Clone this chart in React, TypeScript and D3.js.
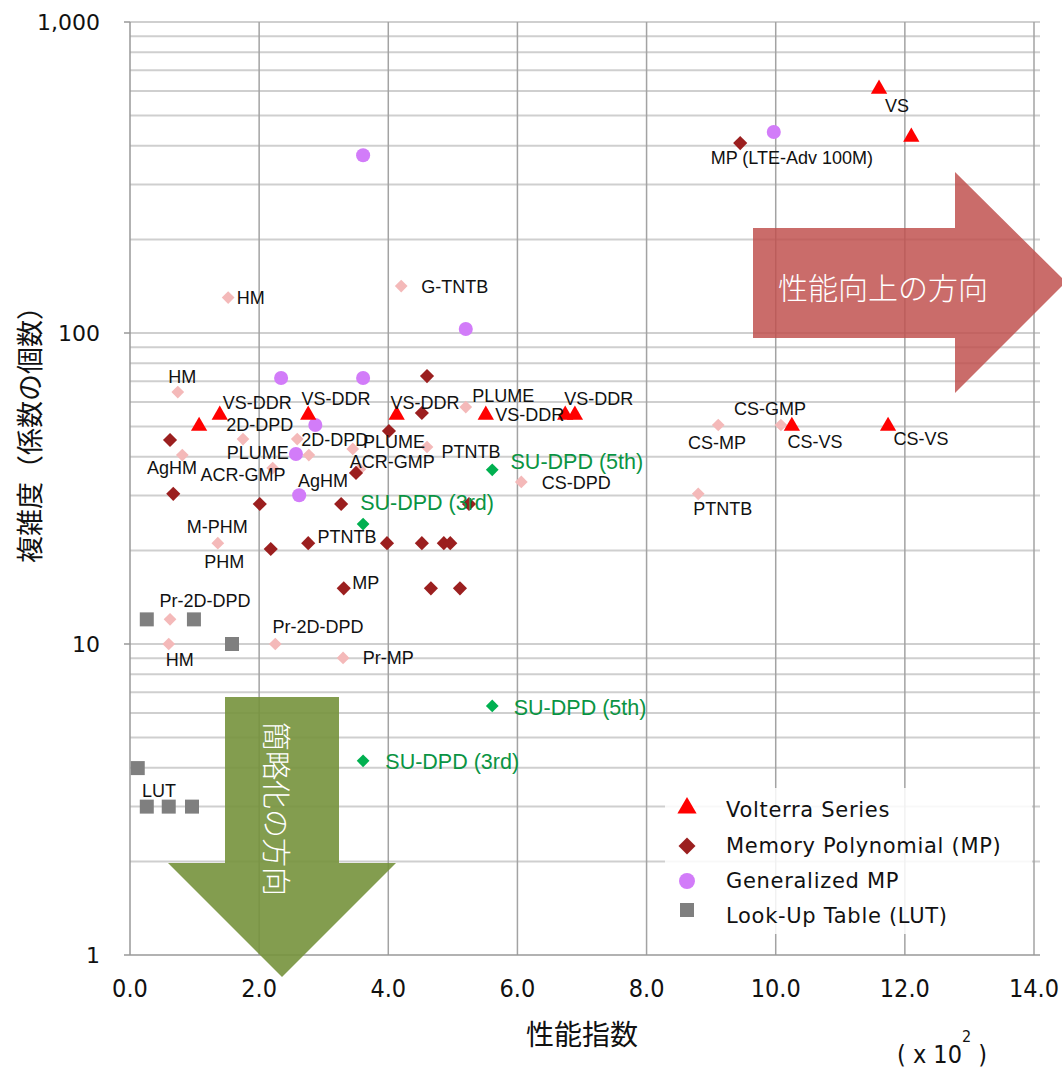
import React from 'react';
import * as d3 from 'd3';

// [performance index (x100), coefficient count]
const volterra: [number, number][] = [
  [11.6, 609], [12.1, 427], [1.07, 50.2], [1.39, 54.5], [2.76, 54.5],
  [4.13, 54.5], [5.51, 54.5], [6.74, 54.5], [6.89, 54.5], [10.25, 50.2], [11.74, 50.2],
];
const memoryPoly: [number, number][] = [
  [0.62, 45.3], [0.67, 30.4], [2.01, 28.2], [3.27, 28.2], [2.18, 20.2],
  [2.76, 21.1], [3.98, 21.1], [4.52, 21.1], [4.86, 21.1], [4.96, 21.1],
  [3.31, 15.1], [4.66, 15.1], [5.11, 15.1], [3.5, 35.5], [5.25, 28.2],
  [4.6, 72.7], [4.52, 55.3], [4.01, 48.4], [9.45, 408],
];
const generalizedMP: [number, number][] = [
  [3.61, 373], [9.97, 443], [5.2, 103], [2.34, 71.7], [3.61, 71.7],
  [2.87, 50.6], [2.57, 40.8], [2.62, 30.1],
];
const lookUpTable: [number, number][] = [
  [0.26, 12.0], [0.99, 12.0], [1.58, 10.0], [0.12, 3.99], [0.26, 3.0], [0.6, 3.0], [0.96, 3.0],
];
const others: [number, number][] = [
  [1.52, 130], [4.2, 141.6], [0.74, 64.6], [1.75, 45.6], [2.59, 45.6],
  [2.77, 40.5], [0.81, 40.5], [3.45, 42.4], [4.6, 43], [5.2, 57.8],
  [2.21, 36.8], [3.56, 36.5], [6.06, 33.2], [1.36, 21.1], [0.62, 12.0],
  [0.6, 10.0], [2.25, 10.0], [3.3, 9.02], [9.11, 50.6], [10.08, 50.6], [8.8, 30.4],
];
const suDpd: [number, number][] = [
  [5.61, 36.3], [3.61, 24.3], [5.61, 6.32], [3.61, 4.21],
];

const pointLabels: [string, number, number][] = [
  ['VS', 11.88, 537], ['MP (LTE-Adv 100M)', 10.25, 365], ['HM', 1.87, 130],
  ['G-TNTB', 5.03, 140.6], ['HM', 0.81, 72.2], ['VS-DDR', 1.97, 59.6],
  ['VS-DDR', 3.19, 61.3], ['VS-DDR', 4.57, 59.6], ['PLUME', 5.78, 62.7],
  ['VS-DDR', 6.19, 54.5], ['VS-DDR', 7.26, 61.3], ['2D-DPD', 2.01, 50.6],
  ['2D-DPD', 3.17, 45.3], ['PLUME', 1.98, 41.1], ['PLUME', 4.09, 44.7],
  ['PTNTB', 5.28, 41.4], ['ACR-GMP', 4.06, 38.5], ['AgHM', 0.65, 36.8],
  ['ACR-GMP', 1.75, 34.9], ['AgHM', 2.99, 33.4], ['CS-DPD', 6.91, 32.9],
  ['M-PHM', 1.35, 23.8], ['PTNTB', 3.36, 22.1], ['PHM', 1.46, 18.4],
  ['MP', 3.65, 15.7], ['Pr-2D-DPD', 1.16, 13.7], ['Pr-2D-DPD', 2.91, 11.3],
  ['HM', 0.77, 8.89], ['Pr-MP', 4.0, 9.02], ['CS-GMP', 9.91, 57.0],
  ['CS-MP', 9.09, 44.3], ['CS-VS', 10.61, 44.6], ['CS-VS', 12.25, 45.6],
  ['PTNTB', 9.18, 27.2], ['LUT', 0.45, 3.37],
];
const suLabels: [string, number, number][] = [
  ['SU-DPD (5th)', 6.92, 38.6], ['SU-DPD (3rd)', 4.6, 28.4],
  ['SU-DPD (5th)', 6.97, 6.23], ['SU-DPD (3rd)', 4.99, 4.18],
];

const xTicks = [0, 2, 4, 6, 8, 10, 12, 14];
const yTicks = [1, 10, 100, 1000];
const legendNames = ['Volterra Series', 'Memory Polynomial (MP)', 'Generalized MP', 'Look-Up Table (LUT)'];

const x = d3.scaleLinear().domain([0, 14]).range([130, 1034]);
const y = d3.scaleLog().domain([1, 1000]).range([955, 22]);

const tri = d3.symbol().type(d3.symbolTriangle).size(115)()!;
const sq = (s: number) => d3.symbol().type(d3.symbolSquare).size(s * s)()!;
const circ = d3.symbol().type(d3.symbolCircle).size(155)()!;

const fmt = d3.format(',');
const minorY: number[] = [];
[1, 10, 100].forEach((d) => d3.range(1, 10).forEach((k) => { if (k * d > 1) minorY.push(k * d); }));
minorY.push(1000);

const latin = "'Liberation Sans', Arial, sans-serif";
const cjk = "'Noto Sans CJK JP', sans-serif";
const cond = "'DejaVu Sans Condensed', 'DejaVu Sans', sans-serif";

export default function App() {
  const diamond = (pts: [number, number][], size: number, color: string) =>
    pts.map(([a, b], i) => (
      <path key={i} d={sq(size)} fill={color}
        transform={`translate(${x(a)},${y(b)}) rotate(45)`} />
    ));
  return (
    <svg width={1062} height={1070} style={{ position: 'absolute', left: 0, top: 0, background: '#fff' }}>
      {/* grid */}
      {minorY.map((v) => (
        <line key={'h' + v} x1={130} x2={1040} y1={y(v)} y2={y(v)} stroke="#cfcfcf" strokeWidth={2} />
      ))}
      {xTicks.slice(1).map((v) => (
        <line key={'v' + v} x1={x(v)} x2={x(v)} y1={22} y2={955} stroke="#a3a3a3" strokeWidth={1.5} />
      ))}
      <line x1={130} x2={130} y1={22} y2={955} stroke="#999" strokeWidth={1.5} />
      <line x1={130} x2={1040} y1={955} y2={955} stroke="#999" strokeWidth={1.5} />
      {yTicks.map((v) => (
        <g key={'yt' + v}>
          <line x1={124} x2={130} y1={y(v)} y2={y(v)} stroke="#999" strokeWidth={1.5} />
          <text x={100} y={y(v)} textAnchor="end" dominantBaseline="central"
            fontFamily="'DejaVu Sans', sans-serif" fontSize={22} fill="#111">{fmt(v)}</text>
        </g>
      ))}
      {xTicks.map((v) => (
        <text key={'xt' + v} x={x(v)} y={988} textAnchor="middle" dominantBaseline="central"
          fontFamily={cond} fontStretch="condensed" fontSize={25} fill="#111">{v.toFixed(1)}</text>
      ))}

      {/* direction arrows */}
      <path d="M225,697 L339,697 L339,863 L396,863 L282,977 L168,863 L225,863 Z" fill="#76923c" opacity={0.9} />
      <text transform="translate(278,809) rotate(90)" textAnchor="middle" dominantBaseline="central"
        fontFamily={cjk} fontSize={29} fill="#fff" fontWeight={300}>簡略化の方向</text>
      <path d="M753,228 L955,228 L955,172 L1066,282 L955,393 L955,338 L753,338 Z" fill="#c0504d" opacity={0.84} />
      <text x={883} y={286} textAnchor="middle" dominantBaseline="central"
        fontFamily={cjk} fontSize={30} fill="#fff" fontWeight={300}>性能向上の方向</text>

      {/* points */}
      {diamond(others, 9, '#f4b9b9')}
      {diamond(suDpd, 9, '#00b050')}
      {diamond(memoryPoly, 10, '#9b1f1f')}
      {generalizedMP.map(([a, b], i) => (
        <path key={'g' + i} d={circ} fill="#d27cf9" transform={`translate(${x(a)},${y(b)})`} />
      ))}
      {lookUpTable.map(([a, b], i) => (
        <path key={'l' + i} d={sq(14)} fill="#7f7f7f" transform={`translate(${x(a)},${y(b)})`} />
      ))}
      {volterra.map(([a, b], i) => (
        <path key={'t' + i} d={tri} fill="#ff0000" transform={`translate(${x(a)},${y(b)})`} />
      ))}

      {/* labels */}
      {pointLabels.map(([t, a, b], i) => (
        <text key={'pl' + i} x={x(a)} y={y(b)} textAnchor="middle" dominantBaseline="central"
          fontFamily={latin} fontSize={18} fill="#111">{t}</text>
      ))}
      {suLabels.map(([t, a, b], i) => (
        <text key={'sl' + i} x={x(a)} y={y(b)} textAnchor="middle" dominantBaseline="central"
          fontFamily={latin} fontSize={21.5} fill="#0a9443">{t}</text>
      ))}

      {/* legend */}
      <rect x={665} y={788} width={367} height={146} fill="#fff" opacity={0.85} />
      {legendNames.map((name, i) => {
        const cy = [810, 846, 881, 916][i];
        const my = [808, 846, 881, 910][i];
        const mark = [
          <path d={d3.symbol().type(d3.symbolTriangle).size(160)()!} fill="#ff0000" />,
          <path d={sq(12)} fill="#9b1f1f" transform="rotate(45)" />,
          <path d={d3.symbol().type(d3.symbolCircle).size(200)()!} fill="#d27cf9" />,
          <path d={sq(14)} fill="#7f7f7f" />,
        ][i];
        return (
          <g key={'lg' + i}>
            <g transform={`translate(687,${my})`}>{mark}</g>
            <text x={726} y={cy} dominantBaseline="central" letterSpacing={0.7}
              fontFamily="'DejaVu Sans', sans-serif" fontSize={21} fill="#111">{name}</text>
          </g>
        );
      })}

      {/* axis titles */}
      <text x={582} y={1033} textAnchor="middle" dominantBaseline="central"
        fontFamily={cjk} fontSize={28} fill="#111">性能指数</text>
      <text transform="translate(28,428) rotate(-90)" textAnchor="middle" dominantBaseline="central"
        fontFamily={cjk} fontSize={27} fill="#111">複雑度（係数の個数）</text>
      <text x={942} y={1054} textAnchor="middle" dominantBaseline="central"
        fontFamily={cond} fontStretch="condensed" fontSize={25} fill="#111">
        ( x 10<tspan dy={-18} fontSize={16}>2</tspan><tspan dy={18}> )</tspan>
      </text>
    </svg>
  );
}
